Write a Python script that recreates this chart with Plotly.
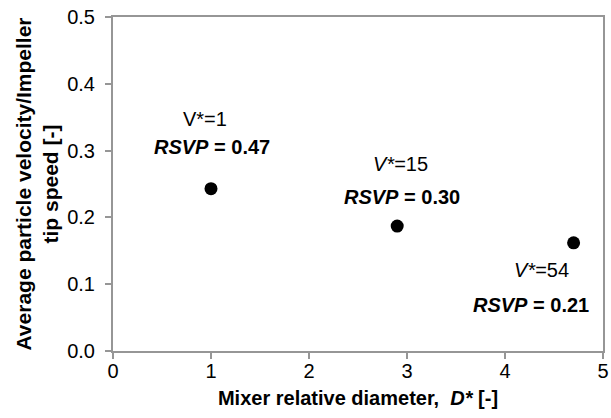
import plotly.graph_objects as go

d_star = [1.0, 2.9, 4.7]
ratio = [0.243, 0.187, 0.162]
v_labels = ["V*=1", "<i>V*</i>=15", "<i>V*</i>=54"]
rsvp_labels = ["<b><i>RSVP</i> = 0.47</b>", "<b><i>RSVP</i> = 0.30</b>", "<b><i>RSVP</i> = 0.21</b>"]
v_pos = [(0.94, 0.347), (2.93, 0.280), (4.37, 0.121)]
rsvp_pos = [(1.01, 0.305), (2.95, 0.231), (4.27, 0.069)]

FONT = "Liberation Sans, Arial, sans-serif"
FS = 20

fig = go.Figure()
fig.add_trace(go.Scatter(x=d_star, y=ratio, mode="markers",
                         marker=dict(color="black", size=13), showlegend=False,
                         cliponaxis=False))

for (x, y), t in zip(v_pos, v_labels):
    fig.add_annotation(x=x, y=y, text=t, showarrow=False,
                       font=dict(family=FONT, size=FS, color="black"))
for (x, y), t in zip(rsvp_pos, rsvp_labels):
    fig.add_annotation(x=x, y=y, text=t, showarrow=False,
                       font=dict(family=FONT, size=FS, color="black"))

axis_common = dict(showline=True, linecolor="#969696", linewidth=2, mirror=True,
                   ticks="outside", tickcolor="#969696", ticklen=6, tickwidth=2,
                   showgrid=False, zeroline=False, automargin=False,
                   ticklabeloverflow="allow",
                   tickfont=dict(family=FONT, size=FS, color="black"))

fig.update_xaxes(range=[0, 5], dtick=1, ticklabelstandoff=-5, **axis_common,
                 title=dict(text="<b>Mixer relative diameter,  <i>D*</i> [-]</b>",
                            font=dict(family=FONT, size=FS, color="black"), standoff=10))
fig.update_yaxes(range=[0, 0.5], dtick=0.1, tickformat=".1f", ticklabelstandoff=6,
                 **axis_common,
                 title=dict(text="<b>Average particle velocity/Impeller<br>tip speed [-]</b>",
                            font=dict(family=FONT, size=21, color="black"), standoff=3))

fig.update_layout(width=611, height=418, plot_bgcolor="white", paper_bgcolor="white",
                  template="none",
                  margin=dict(l=113, r=8, t=17, b=67))

fig.write_html("out.html", config={"displayModeBar": False},
               post_script="document.body.style.margin='0';document.body.style.overflow='hidden';")
